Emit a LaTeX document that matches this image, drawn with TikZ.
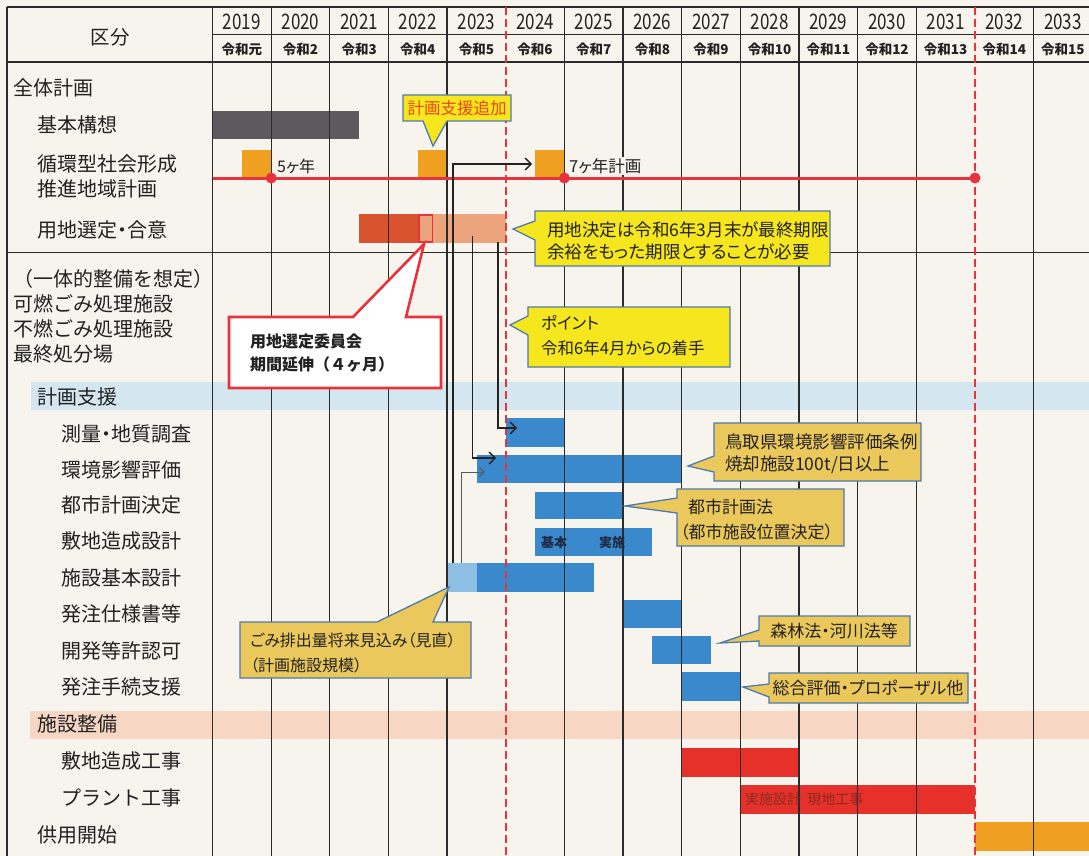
\documentclass[tikz,border=0pt]{standalone}
\usepackage{fontspec}
\setmainfont{Noto Sans CJK JP}
\newfontfamily\jpp{Noto Sans CJK JP}[RawFeature=+palt]
\usetikzlibrary{arrows.meta}
\definecolor{paper}{HTML}{F7F3ED}
\definecolor{gridc}{HTML}{2B2B2B}
\definecolor{barblue}{HTML}{3A89CC}
\definecolor{barlblue}{HTML}{8DBFE4}
\definecolor{bargray}{HTML}{5E595E}
\definecolor{barorange}{HTML}{EFA020}
\definecolor{linered}{HTML}{E8323C}
\definecolor{sitedark}{HTML}{D9532E}
\definecolor{sitelight}{HTML}{EBA47C}
\definecolor{barred}{HTML}{E6312A}
\definecolor{bandblue}{HTML}{D4E6EF}
\definecolor{bandpeach}{HTML}{F7D7C3}
\definecolor{cally}{HTML}{F6E61E}
\definecolor{callt}{HTML}{EBC85C}
\definecolor{callb}{HTML}{4F7BAA}
\definecolor{txtorange}{HTML}{E8471C}
\definecolor{txtdark}{HTML}{222222}
\definecolor{plantxt}{HTML}{8B2A22}
\definecolor{navytxt}{HTML}{1E2B45}
\tikzset{
  lbl/.style={anchor=west, inner sep=0pt, text=txtdark, font=\fontsize{20}{22}\selectfont},
  lblp/.style={lbl, font=\jpp\fontsize{20}{22}\selectfont},
  yr/.style={inner sep=0pt, text=txtdark, font=\fontsize{17.5}{20}\selectfont},
  rw/.style={inner sep=0pt, text=txtdark, font=\bfseries\fontsize{13.5}{15}\selectfont},
  gridline/.style={draw=gridc, line width=1.3pt},
  headline/.style={draw=gridc, line width=1.6pt},
  reddash/.style={draw=linered, line width=1.8pt, dash pattern=on 8pt off 4pt},
  cy/.style={fill=cally, draw=callb, line width=1.3pt},
  ct/.style={fill=callt, draw=callb, line width=1.3pt},
  cr/.style={fill=white, draw=linered, line width=2.6pt},
  ctxt/.style={anchor=west, inner sep=0pt, text=txtdark, font=\jpp\fontsize{17}{20}\selectfont},
  flow/.style={draw=txtdark, line width=1.4pt, -{Straight Barb[length=6pt,width=12pt]}},
  flowthin/.style={draw=black!65, line width=1pt, -{Straight Barb[length=5pt,width=9pt]}},
}
\begin{document}
\begin{tikzpicture}[x=1pt,y=-1pt]
\useasboundingbox (0,0) rectangle (1089,856);
\fill[paper] (0,0) rectangle (1089,856);
% bands
\fill[bandblue] (31,382) rectangle (1089,410);
\fill[bandpeach] (30,711) rectangle (1089,739);
% bars
\fill[bargray] (212.5,111) rectangle (359.1,139);
\fill[barorange] (242,150) rectangle (271.2,177);
\fill[barorange] (417.8,150) rectangle (447.1,177);
\fill[barorange] (535.1,150) rectangle (564.4,177);
\fill[sitedark] (359.1,214) rectangle (417.8,243);
\fill[sitelight] (417.8,214) rectangle (505.8,243);
\fill[barblue] (505.8,418) rectangle (564.4,447);
\fill[barblue] (476.5,455) rectangle (681.7,483);
\fill[barblue] (535.1,492) rectangle (623.1,519);
\fill[barblue] (535.1,528) rectangle (652.4,556);
\fill[barlblue] (447.1,563) rectangle (476.5,592);
\fill[barblue] (476.5,563) rectangle (593.8,592);
\fill[barblue] (623.1,600) rectangle (681.7,628);
\fill[barblue] (652.4,636) rectangle (711,664);
\fill[barblue] (681.7,672) rectangle (740.4,701);
\fill[barred] (681.7,748) rectangle (799,777);
\fill[barred] (740.4,785) rectangle (975,814);
\fill[barorange] (975,822) rectangle (1089,851);
% grid
\foreach \i in {0,1,2,3,4,6,7,8,9,10,11,12,14}{
  \draw[gridline] ({212.5+58.65*\i},7) -- ({212.5+58.65*\i},856);
}
\draw[headline] (7,7) -- (1089,7);
\draw[gridline] (212.5,34.5) -- (1089,34.5);
\draw[headline] (7,62) -- (1089,62);
\draw[gridline] (7,252.5) -- (1089,252.5);
\draw[gridline] (7,7) -- (7,856);
\draw[reddash] (505.8,7) -- (505.8,856);
\draw[reddash] (975,7) -- (975,856);
% small red frame in site bar
\draw[linered, line width=1.8pt] (418.8,215) rectangle (432.5,242);
% header texts
\node[inner sep=0pt, text=txtdark, font=\fontsize{19.5}{22}\selectfont] (hd) at (110,37) {区分};
\foreach \y [count=\i from 0] in {2019,2020,2021,2022,2023,2024,2025,2026,2027,2028,2029,2030,2031,2032,2033}{
  \node[yr] (yr\i) at ({212.5+58.65*(\i+0.5)},22) {\scalebox{0.97}[1.22]{\y}};
}
\foreach \r [count=\i from 0] in {令和元,令和2,令和3,令和4,令和5,令和6,令和7,令和8,令和9,令和10,令和11,令和12,令和13,令和14,令和15}{
  \node[rw] (rw\i) at ({212.5+58.65*(\i+0.5)},49) {\r};
}
% row labels
\node[lbl] (l1) at (13,88) {全体計画};
\node[lbl] (l2) at (37,125) {基本構想};
\node[lbl] (l3) at (37,164) {循環型社会形成};
\node[lbl] (l4) at (37,189) {推進地域計画};
\node[lblp] (l5) at (37,230) {用地選定・合意};
\node[lbl] (l6) at (13,279) {（一体的整備を想定）};
\node[lbl] (l7) at (13,304) {可燃ごみ処理施設};
\node[lbl] (l8) at (13,329) {不燃ごみ処理施設};
\node[lbl] (l9) at (13,354) {最終処分場};
\node[lbl] (l10) at (37,397) {計画支援};
\node[lblp] (l11) at (61,434) {測量・地質調査};
\node[lbl] (l12) at (61,470) {環境影響評価};
\node[lbl] (l13) at (61,505) {都市計画決定};
\node[lbl] (l14) at (61,541) {敷地造成設計};
\node[lbl] (l15) at (61,578) {施設基本設計};
\node[lbl] (l16) at (61,614) {発注仕様書等};
\node[lbl] (l17) at (61,651) {開発等許認可};
\node[lbl] (l18) at (61,687) {発注手続支援};
\node[lbl] (l19) at (37,724) {施設整備};
\node[lbl] (l20) at (61,761) {敷地造成工事};
\node[lbl] (l21) at (61,798) {プラント工事};
\node[lbl] (l22) at (37,835) {供用開始};
% texts in bars
\node[anchor=center, inner sep=0pt, text=navytxt, font=\bfseries\fontsize{13}{15}\selectfont] (kh) at (554,543) {基本};
\node[anchor=center, inner sep=0pt, text=navytxt, font=\bfseries\fontsize{13}{15}\selectfont] (js) at (612,543) {実施};
\node[anchor=west, inner sep=0pt, text=plantxt, font=\fontsize{14}{16}\selectfont] (pt) at (745,799) {実施設計\ \ 現地工事};
% 5 / 7 year plan
\node[anchor=west, inner sep=0pt, text=txtdark, font=\jpp\fontsize{16}{18}\selectfont] (y5) at (277,166) {5ヶ年};
\node[anchor=west, inner sep=1pt, fill=paper, text=txtdark, font=\jpp\fontsize{16.5}{18}\selectfont] (y7) at (568,166) {7ヶ年計画};
% red plan line
\draw[linered, line width=3pt] (212.5,178) -- (975,178);
\fill[linered] (271.2,178) circle (5.5);
\fill[linered] (564.4,178) circle (5.5);
\fill[linered] (975,178) circle (5.5);
% flow arrows
\coordinate (a0) at (453,563); \coordinate (a1) at (532,164);
\coordinate (b0) at (472.5,236); \coordinate (b1) at (496,458);
\coordinate (c0) at (498,242); \coordinate (c1) at (517,428);
\coordinate (d0) at (461,563); \coordinate (d1) at (485,472);
\draw[flow] (a0) |- (a1);
\draw[flow] (b0) |- (b1);
\draw[flow] (c0) |- (c1);
\draw[flowthin] (d0) |- (d1);
% callout 1
\path[cy] (403,95) -- (511,95) -- (511,121) -- (447,121) -- (433,146) -- (423,121) -- (403,121) -- cycle;
\node[inner sep=0pt, text=txtorange, font=\jpp\fontsize{16.5}{18}\selectfont] (k1) at (457,108) {計画支援追加};
% callout 2 red
\path[cr] (229,317) -- (353,317) -- (424,244) -- (406,317) -- (441,317) -- (441,388) -- (229,388) -- cycle;
\node[anchor=west, inner sep=0pt, text=txtdark, font=\bfseries\fontsize{16}{18}\selectfont] (k2a) at (250,341) {用地選定委員会};
\node[anchor=west, inner sep=0pt, text=txtdark, font=\bfseries\fontsize{16}{18}\selectfont] (k2b) at (250,364) {期間延伸（４ヶ月）};
% callout 3
\path[cy] (535,211) -- (830,211) -- (830,266) -- (535,266) -- (535,240) -- (513,229) -- (535,221) -- cycle;
\node[ctxt, font=\jpp\fontsize{17.5}{20}\selectfont] (k3a) at (547,230) {用地決定は令和6年3月末が最終期限};
\node[ctxt, font=\jpp\fontsize{17.5}{20}\selectfont] (k3b) at (547,252) {余裕をもった期限とすることが必要};
% callout 4
\path[cy] (528,307) -- (730,307) -- (730,367) -- (528,367) -- (528,335) -- (510,325) -- (528,316) -- cycle;
\node[ctxt, font=\jpp\fontsize{16.5}{20}\selectfont] (k4a) at (541,323) {ポイント};
\node[ctxt, font=\jpp\fontsize{16.5}{20}\selectfont] (k4b) at (541,348) {令和6年4月からの着手};
% callout 5
\path[ct] (714,423) -- (921,423) -- (921,481) -- (714,481) -- (714,472) -- (688,466) -- (714,456) -- cycle;
\node[ctxt, font=\jpp\fontsize{17.5}{20}\selectfont] (k5a) at (725,442) {鳥取県環境影響評価条例};
\node[ctxt, font=\jpp\fontsize{17.5}{20}\selectfont] (k5b) at (725,465) {焼却施設100t/日以上};
% callout 6
\path[ct] (677,489) -- (844,489) -- (844,546) -- (677,546) -- (677,513) -- (625,506) -- (677,498) -- cycle;
\node[ctxt] (k6a) at (688,507) {都市計画法};
\node[ctxt] (k6b) at (680,532) {（都市施設位置決定）};
% callout 7
\path[ct] (240,622) -- (377,622) -- (449,587) -- (433,622) -- (471,622) -- (471,678) -- (240,678) -- cycle;
\node[ctxt, font=\jpp\fontsize{16}{18}\selectfont] (k7a) at (250,640) {ごみ排出量将来見込み（見直）};
\node[ctxt, font=\jpp\fontsize{16}{18}\selectfont] (k7b) at (250,665) {（計画施設規模）};
% callout 8
\path[ct] (759,616) -- (910,616) -- (910,646) -- (759,646) -- (759,641) -- (720,643) -- (759,630) -- cycle;
\node[inner sep=0pt, text=txtdark, font=\jpp\fontsize{17}{20}\selectfont] (k8) at (834,631) {森林法・河川法等};
% callout 9
\path[ct] (769,673) -- (968,673) -- (968,703) -- (769,703) -- (769,697) -- (743,687) -- (769,684) -- cycle;
\node[inner sep=0pt, text=txtdark, font=\jpp\fontsize{17}{20}\selectfont] (k9) at (868,688) {総合評価・プロポーザル他};
\end{tikzpicture}
\end{document}
